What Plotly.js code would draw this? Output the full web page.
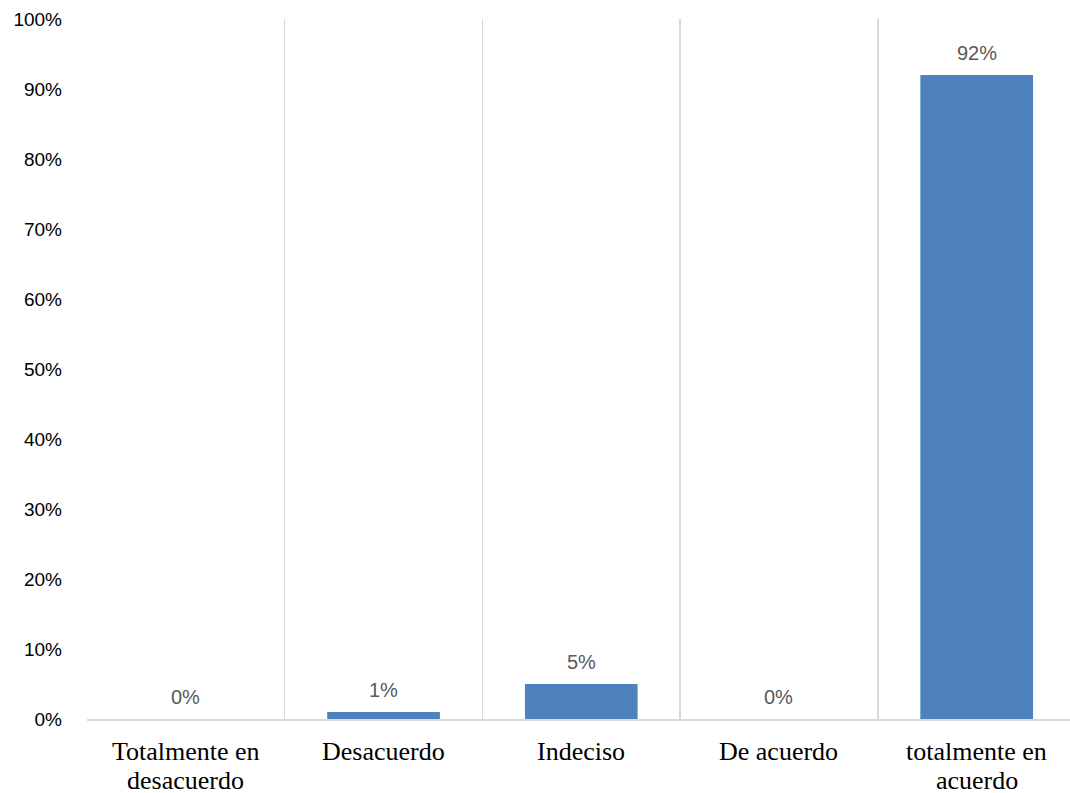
<!DOCTYPE html>
<html>
<head>
<meta charset="utf-8">
<script src="https://cdn.plot.ly/plotly-3.0.1.min.js"></script>
<style>html,body{margin:0;padding:0;background:#fff;}#chart{width:1070px;height:793px;}</style>
</head>
<body>
<div id="chart"></div>
<script>
// Response categories (Likert scale) and their share of answers
const categories = ["Totalmente en desacuerdo", "Desacuerdo", "Indeciso", "De acuerdo", "totalmente en acuerdo"];
const categoryLines = [["Totalmente en", "desacuerdo"], ["Desacuerdo"], ["Indeciso"], ["De acuerdo"], ["totalmente en", "acuerdo"]];
const shares = [0, 0.01, 0.05, 0, 0.92];
const yTickValues = [0, 0.1, 0.2, 0.3, 0.4, 0.5, 0.6, 0.7, 0.8, 0.9, 1.0];
const yTickLabels = ["0%", "10%", "20%", "30%", "40%", "50%", "60%", "70%", "80%", "90%", "100%"];

const sansFont = "Liberation Sans, Arial, sans-serif";
const serifFont = "Liberation Serif, Times New Roman, serif";

const trace = {
  type: "bar",
  x: categories,
  y: shares,
  width: 0.57,
  marker: {color: "#4F81BD"},
  hoverinfo: "skip"
};

// Value labels above each bar
const valueLabels = categories.map((c, i) => ({
  x: c, y: shares[i], xref: "x", yref: "y",
  text: Math.round(shares[i] * 100) + "%",
  showarrow: false, yanchor: "bottom", yshift: 9,
  font: {family: sansFont, size: 20, color: "#595959"}
}));

// Category labels under the axis, one annotation per text line
const categoryLabels = [];
categories.forEach((c, i) => {
  categoryLines[i].forEach((line, j) => {
    categoryLabels.push({
      x: c, y: 0, xref: "x", yref: "paper",
      text: line, showarrow: false, yanchor: "middle",
      yshift: -32 - 29 * j,
      font: {family: serifFont, size: 26, color: "#000000"}
    });
  });
});

const layout = {
  width: 1070,
  height: 793,
  margin: {l: 87, r: 0, t: 19, b: 74},
  paper_bgcolor: "#ffffff",
  plot_bgcolor: "#ffffff",
  showlegend: false,
  xaxis: {
    type: "category",
    range: [-0.5, 4.472],
    tickson: "boundaries",
    showgrid: true,
    gridcolor: "#D9D9D9",
    gridwidth: 1.5,
    showline: true,
    linecolor: "#D9D9D9",
    linewidth: 1.5,
    ticks: "",
    showticklabels: false,
    fixedrange: true
  },
  yaxis: {
    range: [0, 1],
    tickvals: yTickValues,
    ticktext: yTickLabels,
    showgrid: false,
    zeroline: false,
    showline: false,
    ticks: "",
    ticklabelstandoff: 24,
    tickfont: {family: sansFont, size: 19, color: "#000000"},
    fixedrange: true
  },
  annotations: valueLabels.concat(categoryLabels)
};

Plotly.newPlot("chart", [trace], layout, {displayModeBar: false, staticPlot: true});
</script>
</body>
</html>
